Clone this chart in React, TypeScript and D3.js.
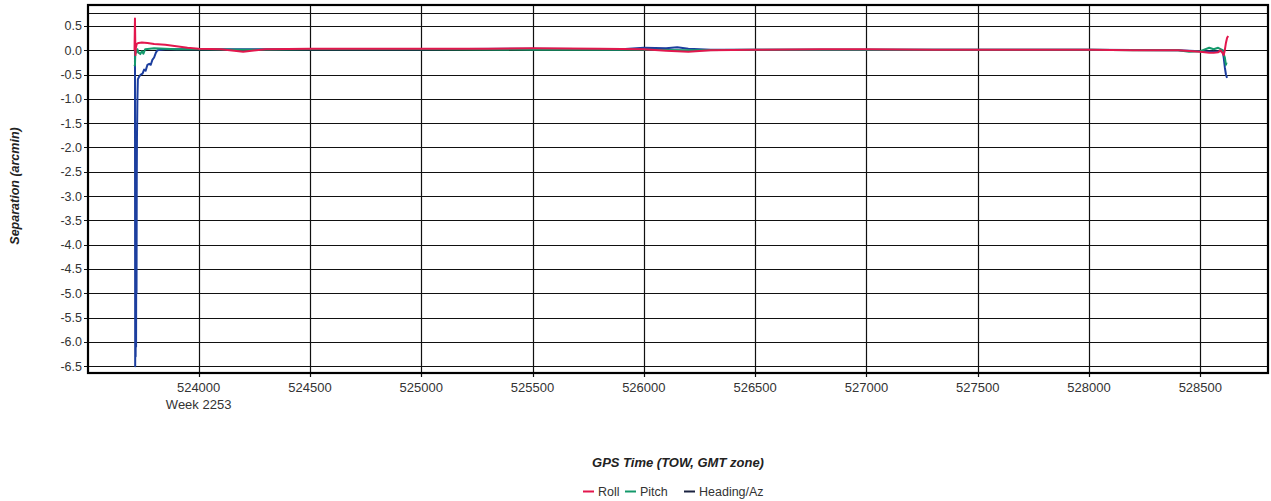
import React from "react";
import * as d3 from "d3";

const yTicks = [0.5, 0.0, -0.5, -1.0, -1.5, -2.0, -2.5, -3.0, -3.5, -4.0, -4.5, -5.0, -5.5, -6.0, -6.5];
const xTicks = [524000, 524500, 525000, 525500, 526000, 526500, 527000, 527500, 528000, 528500];
const seriesNames = ["Roll", "Pitch", "Heading/Az"];
const seriesColors = ["#e3174d", "#14996b", "#1c3e9e"];

const rollT = [523712, 523714, 523715, 523716, 523718, 523722, 523730, 523745, 523770, 523800, 523850, 523900, 523950, 524000, 524100, 524200, 524300, 524500, 524800, 525000, 525300, 525500, 525800, 526000, 526100, 526200, 526300, 526500, 526800, 527000, 527300, 527500, 527800, 528000, 528200, 528400, 528500, 528540, 528560, 528580, 528590, 528600, 528605, 528610, 528615, 528620, 528625];
const rollV = [0.0, 0.65, 0.3, -0.1, 0.05, 0.13, 0.15, 0.16, 0.15, 0.13, 0.11, 0.08, 0.05, 0.03, 0.02, -0.03, 0.02, 0.03, 0.03, 0.03, 0.03, 0.04, 0.03, 0.02, -0.01, -0.03, 0.0, 0.01, 0.02, 0.02, 0.01, 0.01, 0.01, 0.01, 0.0, 0.0, -0.03, -0.05, -0.05, -0.04, 0.0, -0.06, -0.1, 0.0, 0.15, 0.25, 0.29];

const pitchT = [523712, 523714, 523716, 523720, 523725, 523730, 523738, 523745, 523752, 523760, 523780, 523800, 523850, 523900, 524000, 524200, 524500, 525000, 525500, 526000, 526200, 526500, 527000, 527500, 528000, 528200, 528400, 528450, 528500, 528540, 528560, 528580, 528600, 528605, 528610, 528615, 528618];
const pitchV = [-0.33, -0.3, 0.0, -0.05, 0.02, -0.05, -0.08, -0.02, -0.07, 0.02, 0.03, 0.04, 0.03, 0.02, 0.02, 0.01, 0.02, 0.02, 0.01, 0.01, 0.0, 0.01, 0.01, 0.01, 0.01, 0.0, 0.0, -0.03, -0.02, 0.05, 0.02, 0.05, 0.0, -0.08, -0.15, -0.3, -0.25];

const headT = [523714, 523715, 523716, 523717, 523718, 523719, 523720, 523721, 523722, 523723, 523725, 523727, 523732, 523740, 523748, 523755, 523762, 523770, 523778, 523785, 523792, 523800, 523808, 523815, 523850, 523900, 524000, 524500, 525000, 525500, 525900, 526000, 526100, 526150, 526200, 526300, 526500, 527000, 527500, 528000, 528400, 528500, 528560, 528590, 528600, 528605, 528610, 528615, 528620];
const headV = [0.0, -6.5, -3.0, -6.3, -2.8, -6.1, -3.2, -5.0, -2.7, -1.8, -1.0, -0.6, -0.55, -0.5, -0.48, -0.4, -0.42, -0.3, -0.28, -0.3, -0.2, -0.15, -0.05, 0.0, 0.02, 0.02, 0.02, 0.02, 0.02, 0.03, 0.02, 0.05, 0.04, 0.06, 0.03, 0.01, 0.01, 0.01, 0.01, 0.01, 0.0, -0.02, -0.03, -0.02, 0.0, -0.15, -0.35, -0.5, -0.57];

export default function App() {
  const W = 1271, H = 501;
  const left = 88, right = 1268, top = 5, bottom = 373;
  const x = d3.scaleLinear().domain([523503, 528804]).range([left, right]);
  const y = d3.scaleLinear().domain([0.93, -6.64]).range([top, bottom]);
  const line = d3.line<[number, number]>().x(d => x(d[0])).y(d => y(d[1]));
  const series = [
    { t: headT, v: headV, c: seriesColors[2] },
    { t: pitchT, v: pitchV, c: seriesColors[1] },
    { t: rollT, v: rollV, c: seriesColors[0] },
  ];
  const font = "'Liberation Sans', Arial, sans-serif";
  const legendItems = [
    { name: seriesNames[0], c: seriesColors[0], x: 583 },
    { name: seriesNames[1], c: seriesColors[1], x: 625 },
    { name: seriesNames[2], c: "#1a2240", x: 684 },
  ];
  return (
    <svg width={W} height={H} style={{ position: "absolute", left: 0, top: 0, background: "#fff" }} fontFamily={font}>
      <rect x={0} y={0} width={W} height={H} fill="#fff" />
      {yTicks.map(v => (
        <g key={"y" + v}>
          <line x1={left} x2={right} y1={Math.round(y(v)) + 0.5} y2={Math.round(y(v)) + 0.5} stroke="#111" strokeWidth={1.2} />
          <line x1={left - 4} x2={left} y1={Math.round(y(v)) + 0.5} y2={Math.round(y(v)) + 0.5} stroke="#111" strokeWidth={1} />
          <text x={left - 6} y={y(v) + 4.5} textAnchor="end" fontSize={12.5} fill="#333">{v.toFixed(1)}</text>
        </g>
      ))}
      {xTicks.map((v, i) => (
        <g key={"x" + v}>
          <line x1={Math.round(x(v)) + 0.5} x2={Math.round(x(v)) + 0.5} y1={top} y2={bottom + 4} stroke="#111" strokeWidth={1.2} />
          <text x={x(v)} y={392} textAnchor="middle" fontSize={13} fill="#333">{v}</text>
          {i === 0 && <text x={x(v)} y={409} textAnchor="middle" fontSize={13} fill="#333">Week 2253</text>}
        </g>
      ))}
      <line x1={left} x2={right} y1={13.5} y2={13.5} stroke="#111" strokeWidth={1.2} />
      {series.map((s, i) => (
        <path key={i} d={line(s.t.map((t, j) => [t, s.v[j]] as [number, number])) || ""} fill="none" stroke={s.c} strokeWidth={2} strokeLinejoin="round" />
      ))}
      <rect x={left} y={top} width={right - left} height={bottom - top} fill="none" stroke="#000" strokeWidth={2.2} />
      <text transform={`translate(19,186) rotate(-90)`} textAnchor="middle" fontSize={12.5} fontWeight="bold" fontStyle="italic" fill="#222">Separation (arcmin)</text>
      <text x={678} y={467} textAnchor="middle" fontSize={13} fontWeight="bold" fontStyle="italic" fill="#222">GPS Time (TOW, GMT zone)</text>
      {legendItems.map(l => (
        <g key={l.name}>
          <line x1={l.x} x2={l.x + 11} y1={491.5} y2={491.5} stroke={l.c} strokeWidth={2} />
          <text x={l.x + 15} y={495.5} fontSize={12.5} fill="#333">{l.name}</text>
        </g>
      ))}
    </svg>
  );
}
